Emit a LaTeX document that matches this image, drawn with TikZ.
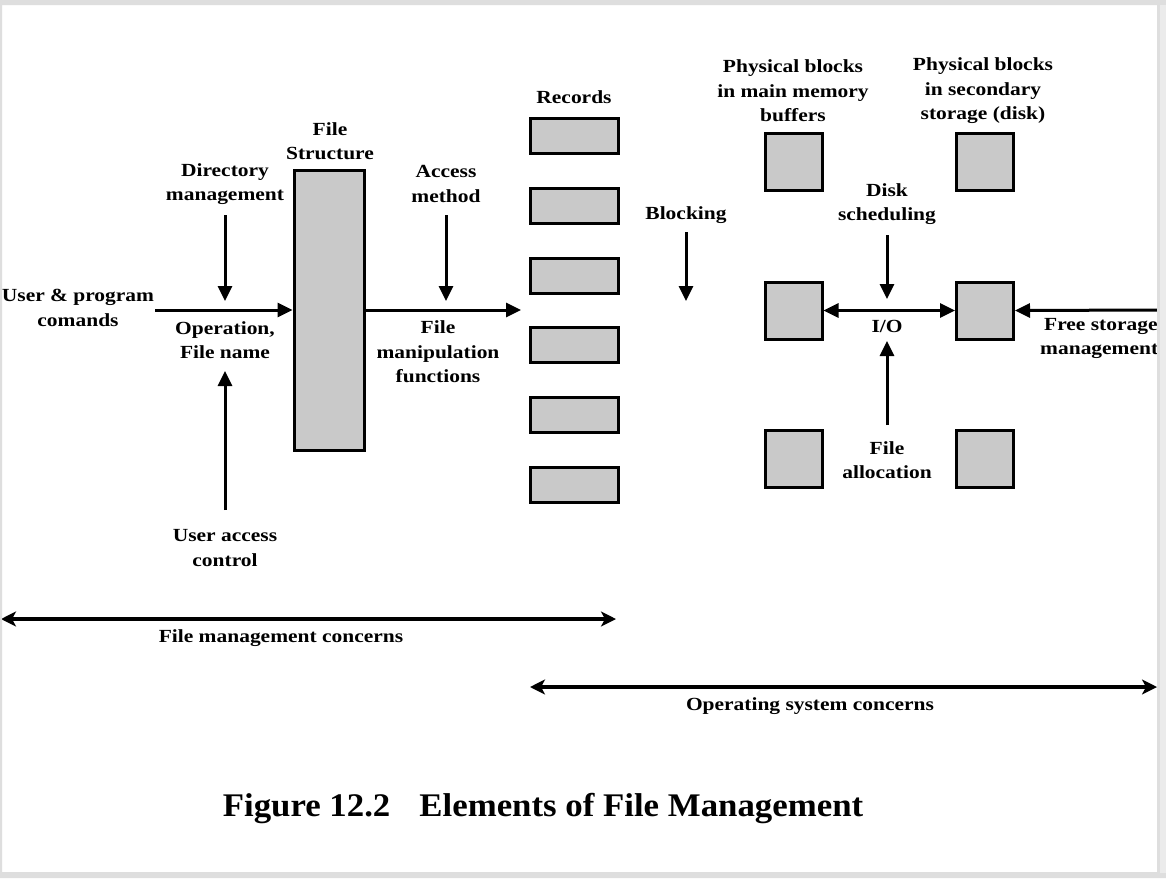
\documentclass[tikz,border=0pt]{standalone}
\usepackage{fontspec}
\setmainfont{Liberation Serif}
\newfontfamily\lblfont[FakeStretch=1.16]{Liberation Serif}
\newfontfamily\capfont[FakeStretch=1.055]{Liberation Serif}
\usetikzlibrary{arrows.meta}
\begin{document}
\begin{tikzpicture}[x=1pt,y=-1pt,
  lbl/.style={font=\lblfont\bfseries\fontsize{18.5}{24.5}\selectfont, align=center, inner sep=0pt},
  blk/.style={draw=black, line width=3pt, fill=black!21, inner sep=0pt},
  arr/.style={line width=3pt, -{Triangle[length=15pt,width=14pt]}},
  darr/.style={line width=3pt, {Triangle[length=15pt,width=14pt]}-{Triangle[length=15pt,width=14pt]}},
  farr/.style={line width=3.5pt, {Stealth[length=15pt,width=15pt,inset=4pt]}-{Stealth[length=15pt,width=15pt,inset=4pt]}}
]
\useasboundingbox (0,0) rectangle (1166,878);
\fill[white] (0,0) rectangle (1166,878);

% File structure
\node[blk, minimum width=70pt, minimum height=280pt] (fs) at (329,310) {};
\node[lbl] (fsl) at (330,141) {File\\Structure};

% Directory management
\node[lbl] (dm) at (225,184) {Directory\\management};
\coordinate (dmt) at (225,215);
\coordinate (dmb) at (225,301);
\draw[arr] (dmt) -- (dmb);

% user & program
\node[lbl] (up) at (78,308) {User \& program\\comands};
\coordinate (ups) at (155,310);
\draw[arr] (ups) -- (fs.west |- ups);

\node[lbl] (op) at (225,340) {Operation,\\File name};

\coordinate (uat) at (225,510);
\coordinate (uab) at (225,371);
\draw[arr] (uat) -- (uab);
\node[lbl] (ua) at (225,548) {User access\\control};

% access method
\node[lbl] (am) at (446,184) {Access\\method};
\coordinate (amt) at (446,215);
\coordinate (amb) at (446,301);
\draw[arr] (amt) -- (amb);

\coordinate (fme) at (521,310);
\draw[arr] (fs.east |- fme) -- (fme);
\node[lbl] (fm) at (438,352) {File\\manipulation\\functions};

% Records
\node[lbl] (rec) at (574,97) {Records};
\foreach \i/\y in {1/135.5,2/205.5,3/275.5,4/344.5,5/414.5,6/484.5}{
  \node[blk, minimum width=88pt, minimum height=35pt] (r\i) at (574,\y) {};
}

% Blocking
\node[lbl] (blkl) at (686,215) {Blocking};
\coordinate (bt) at (686,232);
\coordinate (bb) at (686,301);
\draw[arr] (bt) -- (bb);

% Physical blocks
\node[lbl] (pbm) at (793,91) {Physical blocks\\in main memory\\buffers};
\node[lbl] (pbs) at (983,91) {Physical blocks\\in secondary\\storage (disk)};

\foreach \n/\x/\y in {m1/793.5/161.5,m2/793.5/310.5,m3/793.5/458.5,s1/985/161.5,s2/985/310.5,s3/985/458.5}{
  \node[blk, minimum width=57pt, minimum height=57pt] (\n) at (\x,\y) {};
}

% Disk scheduling
\node[lbl] (ds) at (887,204) {Disk\\scheduling};
\coordinate (dst) at (887,235);
\coordinate (dsb) at (887,299);
\draw[arr] (dst) -- (dsb);

\draw[darr] (m2.east) -- (s2.west);
\node[lbl] (io) at (887,326) {I/O};

\coordinate (fat) at (887,425);
\coordinate (fab) at (887,341);
\draw[arr] (fat) -- (fab);
\node[lbl] (fa) at (887,460) {File\\allocation};

% free storage
\coordinate (fss) at (1160,310);
\draw[arr] (fss) -- (s2.east);
\node[lbl, anchor=west] (fsm1) at (1044,326) {Free storage};
\node[lbl, anchor=west] (fsm2) at (1040,351) {management};

% concerns
\coordinate (fmcl) at (1,619);
\coordinate (fmcr) at (616,619);
\draw[farr] (fmcl) -- (fmcr);
\node[lbl] (fmc) at (281,638) {File management concerns};

\coordinate (oscl) at (530,687);
\coordinate (oscr) at (1157,687);
\draw[farr] (oscl) -- (oscr);
\node[lbl] (osc) at (810,706) {Operating system concerns};

% caption
\node[lbl, font=\capfont\bfseries\fontsize{33}{38}\selectfont] (cap) at (543,809) {Figure 12.2\hspace{29pt}Elements of File Management};

% frame on top
\fill[black!13, even odd rule] (0,0) rectangle (1166,878) (2,5) rectangle (1157,872);
\fill[black!8] (1160,5) rectangle (1166,873);
\end{tikzpicture}
\end{document}
